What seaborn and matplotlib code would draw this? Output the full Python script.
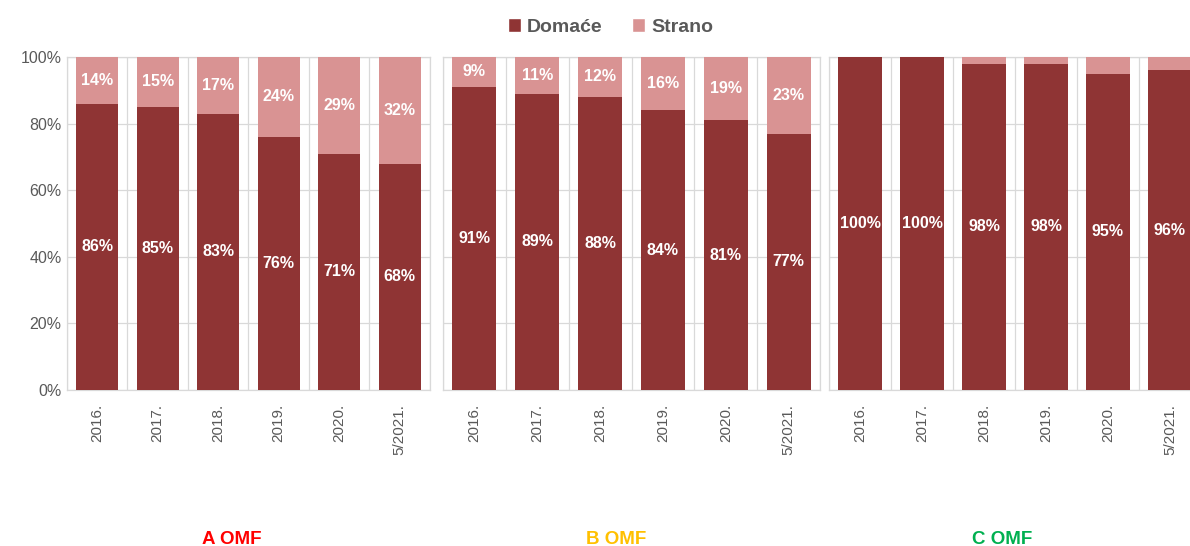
import pandas as pd
import seaborn as sns
import matplotlib.pyplot as plt
from matplotlib.patches import Patch

# ------------------ DATOS ------------------ #

godine = ["2016.", "2017.", "2018.", "2019.", "2020.", "5/2021."]

a_domace = [86, 85, 83, 76, 71, 68]
a_strano = [14, 15, 17, 24, 29, 32]

b_domace = [91, 89, 88, 84, 81, 77]
b_strano = [9, 11, 12, 16, 19, 23]

c_domace = [100, 100, 98, 98, 95, 96]
c_strano = [0, 0, 2, 2, 5, 4]

fondovi = ["A OMF", "B OMF", "C OMF"]
boje_naslova = ["#ff0000", "#ffc000", "#00b050"]

TAMNA = "#8f3434"
SVIJETLA = "#d99393"
SIVA = "#595959"

# ------------------ FIGURA ------------------ #

sns.set_style("white")
plt.rcParams["font.family"] = ["Liberation Sans", "DejaVu Sans"]

fig = plt.figure(figsize=(11.9, 5.46), dpi=100)

pozicije = [
    [0.0563, 0.2857, 0.305, 0.6099],
    [0.3723, 0.2857, 0.3168, 0.6099],
    [0.6966, 0.2857, 0.3126, 0.6099],
]
podaci = [(a_domace, a_strano), (b_domace, b_strano), (c_domace, c_strano)]
naslov_x = [0.195, 0.518, 0.842]

for i, (dom, stra) in enumerate(podaci):
    ax = fig.add_axes(pozicije[i])
    df = pd.DataFrame({"godina": godine, "domace": dom, "strano": stra})
    df["ukupno"] = df["domace"] + df["strano"]

    sns.barplot(data=df, x="godina", y="ukupno", color=SVIJETLA,
                width=0.7, saturation=1, linewidth=0, ax=ax, zorder=3)
    sns.barplot(data=df, x="godina", y="domace", color=TAMNA,
                width=0.7, saturation=1, linewidth=0, ax=ax, zorder=3)

    # oznake vrijednosti
    for p_dom, d, s in zip(ax.containers[1], dom, stra):
        cx = p_dom.get_x() + p_dom.get_width() / 2
        ax.text(cx, d / 2, f"{d}%", ha="center", va="center", color="white",
                fontsize=11.5, fontweight="bold", zorder=5)
        if s >= 5 and i < 2:
            ax.text(cx, d + s / 2, f"{s}%", ha="center", va="center",
                    color="white", fontsize=11.5, fontweight="bold", zorder=5)

    ax.set_xlim(-0.5, 5.5)
    ax.set_ylim(0, 100)
    ax.set_yticks(range(0, 101, 20))
    if i == 0:
        ax.set_yticklabels([f"{v}%" for v in range(0, 101, 20)],
                           color=SIVA, fontsize=11.5)
    else:
        ax.set_yticklabels([])
    ax.set_xticks(range(len(godine)))
    ax.set_xticklabels(godine, rotation=90, va="top", color=SIVA, fontsize=11)
    ax.set_xticks([x - 0.5 for x in range(len(godine) + 1)], minor=True)
    ax.tick_params(axis="both", which="both", length=0)
    ax.tick_params(axis="x", pad=10)
    ax.tick_params(axis="y", pad=4)

    ax.grid(axis="y", which="major", color="#d9d9d9", linewidth=0.9, zorder=0)
    ax.grid(axis="x", which="minor", color="#d9d9d9", linewidth=0.9, zorder=0)
    ax.set_axisbelow(True)
    for sp in ax.spines.values():
        sp.set_color("#d9d9d9")
        sp.set_linewidth(0.9)
    ax.set_xlabel("")
    ax.set_ylabel("")

    fig.text(naslov_x[i], 0.012, fondovi[i], ha="center", va="center",
             color=boje_naslova[i], fontsize=13.5, fontweight="bold")

# legenda
rucke = [Patch(facecolor=TAMNA, label="Domaće"),
         Patch(facecolor=SVIJETLA, label="Strano")]
leg = fig.legend(handles=rucke, loc="center", bbox_to_anchor=(0.513, 0.951),
                 ncol=2, frameon=False, handlelength=0.7, handleheight=0.7,
                 handletextpad=0.3, columnspacing=1.5,
                 prop={"size": 14, "weight": "bold"})
for t in leg.get_texts():
    t.set_color(SIVA)

plt.savefig("out.png", dpi=100)
plt.close()
